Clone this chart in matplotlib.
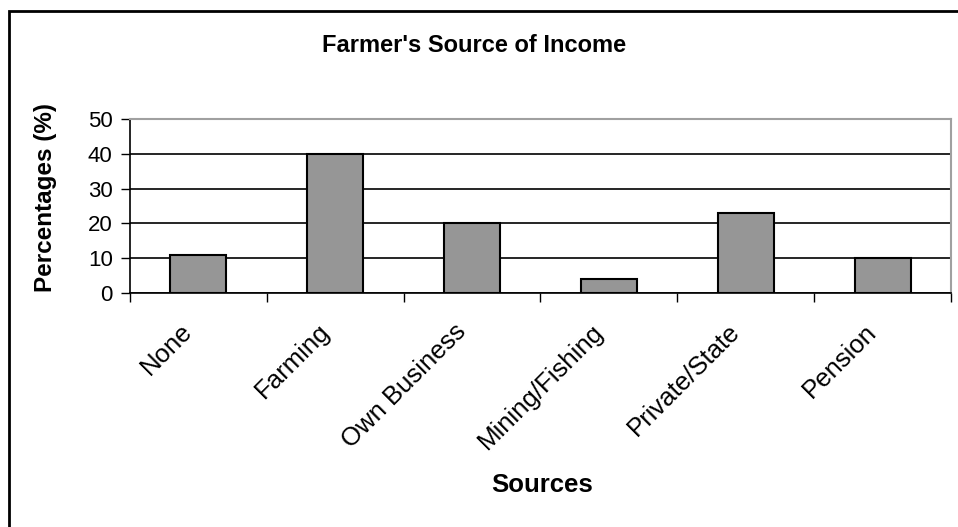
import matplotlib.pyplot as plt
import matplotlib.transforms as mtransforms
import numpy as np
from matplotlib.patches import Rectangle

sources = ["None", "Farming", "Own Business", "Mining/Fishing", "Private/State", "Pension"]
percentages = [11, 40, 20, 4, 23, 10]
yticks = [0, 10, 20, 30, 40, 50]

plt.rcParams['font.family'] = ['Liberation Sans', 'DejaVu Sans']

fig = plt.figure(figsize=(9.58, 5.27), dpi=100)
ax = fig.add_axes([130 / 958, 1 - 293 / 527, 821 / 958, 174 / 527])

x = np.arange(len(sources))
ax.bar(x, percentages, width=0.41, color="#969696", edgecolor="black", linewidth=1.5, zorder=3)

ax.set_xlim(-0.5, len(sources) - 0.5)
ax.set_ylim(0, 50)
ax.set_yticks(yticks)
ax.tick_params(axis="y", labelsize=16, length=6.5, width=1, direction="out", pad=6)
ax.yaxis.grid(True, color="black", linewidth=1.2)
ax.set_axisbelow(True)

# category labels sit under the bars, tick marks fall between categories
ax.set_xticks(x)
ax.set_xticklabels(sources, rotation=45, ha="right", rotation_mode="anchor", fontsize=18.5)
ax.tick_params(axis="x", length=0, pad=19)
shift = mtransforms.ScaledTranslation(-18 / 100, 0, fig.dpi_scale_trans)
for lbl in ax.get_xticklabels():
    lbl.set_transform(lbl.get_transform() + shift)
ax.set_xticks(np.arange(len(sources) + 1) - 0.5, minor=True)
ax.tick_params(axis="x", which="minor", length=6.5, width=1, direction="out")

for side in ["top", "right"]:
    ax.spines[side].set_color("#a0a0a0")
    ax.spines[side].set_linewidth(1.5)
for side in ["left", "bottom"]:
    ax.spines[side].set_color("black")
    ax.spines[side].set_linewidth(1.2)

ax.set_ylabel("Percentages (%)", fontsize=17.5, fontweight="bold")
ax.yaxis.set_label_coords(-(130 - 57) / 821, 0.55)
fig.text(542 / 958, 1 - 485 / 527, "Sources", fontsize=18.5,
         fontweight="bold", ha="center", va="center")
fig.text(474 / 958, 1 - 45 / 527, "Farmer's Source of Income", fontsize=17,
         fontweight="bold", ha="center", va="center")

# chart frame running off the right and bottom edges
fig.patches.append(Rectangle((9 / 958, -0.1), 1.2, 1 - 11 / 527 + 0.1, transform=fig.transFigure,
                             fill=False, edgecolor="black", linewidth=2))

fig.savefig("out.png", dpi=100)
